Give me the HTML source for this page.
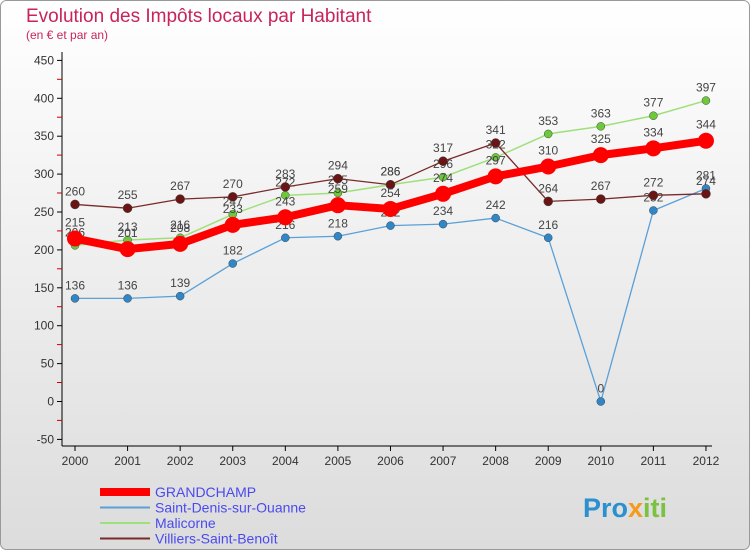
<!DOCTYPE html>
<html><head><meta charset="utf-8"><style>
body{margin:0;background:#fff;}
#c{position:relative;width:750px;height:550px;font-family:"Liberation Sans",sans-serif;}
</style></head><body>
<div id="c">
<svg id="s" width="750" height="550" xmlns="http://www.w3.org/2000/svg">
<defs><linearGradient id="bg" x1="0" y1="0" x2="0" y2="1"><stop offset="0" stop-color="#ffffff"/><stop offset="1" stop-color="#dcdcdc"/></linearGradient></defs>
<rect x="0.5" y="0.5" width="749" height="549" rx="6" fill="url(#bg)" stroke="#999"/>
<text x="26" y="22" font-size="19" fill="#c8245a">Evolution des Impôts locaux par Habitant</text>
<text x="26" y="39" font-size="12" fill="#c8245a">(en € et par an)</text>
<g id="axes"></g><g id="series"></g><g id="legend"></g>
<text x="583" y="517" font-size="27" font-weight="bold" fill="#2b8fd0">Pro<tspan fill="#f59a1a">x</tspan><tspan fill="#7cc242">iti</tspan></text>
</svg>
</div>
<script>
const years=[2000,2001,2002,2003,2004,2005,2006,2007,2008,2009,2010,2011,2012];
const yTicks=[-50,0,50,100,150,200,250,300,350,400,450];
const grandchamp=[215,201,208,233,243,259,254,274,297,310,325,334,344];
const saintDenis=[136,136,139,182,216,218,232,234,242,216,0,252,281];
const malicorne=[206,213,216,247,272,275,286,296,322,353,363,377,397];
const villiers=[260,255,267,270,283,294,286,317,341,264,267,272,274];
const NS="http://www.w3.org/2000/svg";
const X=i=>75+i*52.58, Y=v=>401.5-v*0.758;
function mk(p,t,a){const e=document.createElementNS(NS,t);for(const k in a)e.setAttribute(k,a[k]);p.appendChild(e);return e;}
const ax=document.getElementById('axes');
let e=mk(ax,'line',{x1:62,y1:52,x2:62,y2:446,stroke:'#000'});


e=mk(ax,'line',{x1:62,y1:446,x2:712,y2:446,stroke:'#000'});


yTicks.forEach((v,k)=>{const y=Y(v);
 mk(ax,'line',{x1:57,y1:y,x2:62,y2:y,stroke:'#000'});
 if(k<yTicks.length-1) mk(ax,'line',{x1:57,y1:y-19,x2:62,y2:y-19,stroke:'#c00'});
 const t=mk(ax,'text',{x:54,y:y+4,'font-size':12,'text-anchor':'end',fill:'#333'});t.textContent=v;
 
 });
years.forEach((yr,i)=>{const x=X(i);
 mk(ax,'line',{x1:x,y1:446,x2:x,y2:451,stroke:'#000'});
 const t=mk(ax,'text',{x:x,y:465,'font-size':12,'text-anchor':'middle',fill:'#333'});t.textContent=yr;
 
 });
const sg=document.getElementById('series');
const defs=[
 {n:'saint-denis',d:saintDenis,c:'#5aa0d8',f:'#2f86c8',w:1.3,r:4},
 {n:'malicorne',d:malicorne,c:'#9fe07a',f:'#6cc93a',w:1.5,r:4},
 {n:'villiers',d:villiers,c:'#7a2a2a',f:'#6a1515',w:1.3,r:4.5},
 {n:'grandchamp',d:grandchamp,c:'#ff0000',f:'#ff0000',w:8,r:8}];
defs.forEach(s=>{const g=mk(sg,'g',{});
 
 
 const l=mk(g,'polyline',{points:s.d.map((v,i)=>X(i)+','+Y(v)).join(' '),fill:'none',stroke:s.c,'stroke-width':s.w,'stroke-linejoin':'round'});
 
 
 s.d.forEach((v,i)=>{const c=mk(g,'circle',{cx:X(i),cy:Y(v),r:s.r,fill:s.f,stroke:s.w>2?'none':'#444','stroke-width':0.5});
  
  
  const t=mk(g,'text',{x:X(i),y:Y(v)-(s.w>2?12:9),'font-size':12,'text-anchor':'middle',fill:'#444'});t.textContent=v;
  
  });});
const lg=document.getElementById('legend');
const items=[['GRANDCHAMP','#ff0000',8],['Saint-Denis-sur-Ouanne','#5aa0d8',2],['Malicorne','#9fe07a',2],['Villiers-Saint-Benoît','#7a2a2a',2]];
items.forEach((it,i)=>{const y=492+i*15.5;
 const l=mk(lg,'line',{x1:100,y1:y,x2:150,y2:y,stroke:it[1],'stroke-width':it[2]});
 
 
 const t=mk(lg,'text',{x:155,y:y+5,'font-size':14,fill:'#4a4af0'});t.textContent=it[0];
 
 });
</script>
</body></html>
